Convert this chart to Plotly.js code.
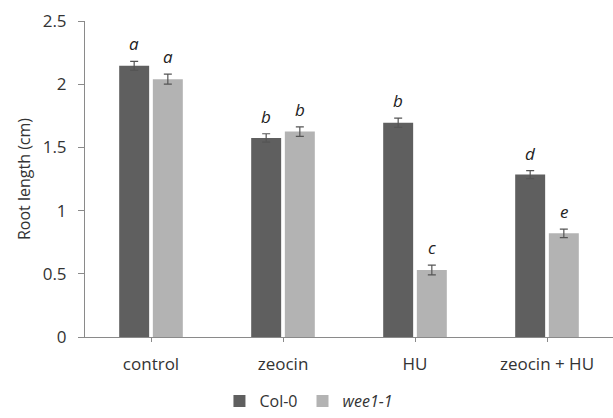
<!DOCTYPE html>
<html>
<head>
<meta charset="utf-8">
<script src="https://cdn.plot.ly/plotly-3.0.1.min.js"></script>
<style>html,body{margin:0;padding:0;background:#fff;}#chart{width:613px;height:418px;}</style>
</head>
<body>
<div id="chart"></div>
<script>
const categories = ["control", "zeocin", "HU", "zeocin + HU"];
const col0Values = [2.145, 1.575, 1.695, 1.285];
const col0Errors = [0.035, 0.033, 0.036, 0.032];
const col0Letters = ["a", "b", "b", "d"];
const wee1Values = [2.04, 1.625, 0.53, 0.82];
const wee1Errors = [0.04, 0.037, 0.038, 0.034];
const wee1Letters = ["a", "b", "c", "e"];
const yTickVals = [0, 0.5, 1, 1.5, 2, 2.5];
const yTickText = ["0", "0.5", "1", "1.5", "2", "2.5"];

const FONT = "Open Sans, Liberation Sans, sans-serif";
const TXT = "#333333";

const traces = [
  {
    type: "bar", name: "Col-0", x: categories, y: col0Values,
    marker: {color: "#5f5f5f"},
    error_y: {type: "data", array: col0Errors, visible: true, color: "#555555", thickness: 1.2, width: 4}
  },
  {
    type: "bar", name: "<i>wee1-1</i>", x: categories, y: wee1Values,
    marker: {color: "#b3b3b3"},
    error_y: {type: "data", array: wee1Errors, visible: true, color: "#555555", thickness: 1.2, width: 4}
  }
];

const annotations = [];
categories.forEach((c, i) => {
  annotations.push({x: c, y: col0Values[i] + col0Errors[i], text: "<i>" + col0Letters[i] + "</i>",
    showarrow: false, xshift: -17, yanchor: "bottom", yshift: 4, font: {family: FONT, size: 17, color: "#222"}});
  annotations.push({x: c, y: wee1Values[i] + wee1Errors[i], text: "<i>" + wee1Letters[i] + "</i>",
    showarrow: false, xshift: 17, yanchor: "bottom", yshift: 4, font: {family: FONT, size: 17, color: "#222"}});
});

const layout = {
  width: 613, height: 418,
  margin: {l: 85, r: 0, t: 21, b: 81, autoexpand: false},
  paper_bgcolor: "#ffffff", plot_bgcolor: "#ffffff",
  font: {family: FONT, size: 16, color: TXT},
  barmode: "group", bargap: 0.49, bargroupgap: 0.11,
  showlegend: true,
  legend: {orientation: "h", xref: "container", x: 0.358, xanchor: "left",
    yref: "container", y: 0, yanchor: "bottom",
    font: {family: FONT, size: 16, color: TXT}, itemwidth: 30, traceorder: "normal"},
  xaxis: {
    type: "category", showline: true, linecolor: "#8a8a8a", linewidth: 1,
    ticks: "outside", ticklen: 4, tickcolor: "#8a8a8a", showgrid: false, zeroline: false,
    tickfont: {family: FONT, size: 17, color: TXT}, ticklabelstandoff: 8
  },
  yaxis: {
    range: [0, 2.5], tickvals: yTickVals, ticktext: yTickText,
    showline: true, linecolor: "#8a8a8a", linewidth: 1,
    ticks: "outside", ticklen: 6, tickcolor: "#8a8a8a", showgrid: false, zeroline: false,
    tickfont: {family: FONT, size: 17, color: TXT}, ticklabelstandoff: 8,
    title: {text: "Root length (cm)", font: {family: FONT, size: 16, color: TXT}, standoff: 8}
  },
  annotations: annotations
};

Plotly.newPlot("chart", traces, layout, {staticPlot: true, displayModeBar: false});
</script>
</body>
</html>
